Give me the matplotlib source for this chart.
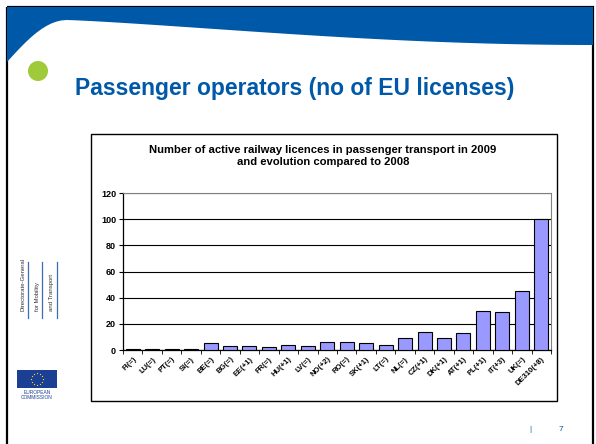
import numpy as np
import matplotlib
matplotlib.use("Agg")
import matplotlib.pyplot as plt
from matplotlib.patches import Polygon, Circle, Rectangle

# data
countries = ["FI(=)", "LU(=)", "PT(=)", "SI(=)", "BE(=)", "BG(=)", "EE(+1)", "FR(=)",
             "HU(+1)", "LV(=)", "NO(+2)", "RO(=)", "SK(+1)", "LT(=)", "NL(=)", "CZ(+1)",
             "DK(+1)", "AT(+1)", "PL(+1)", "IT(+3)", "UK(=)", "DE310(+8)"]
licences = [1, 1, 1, 1, 5, 3, 3, 2, 4, 3, 6, 6, 5, 4, 9, 14, 9, 13, 30, 29, 45, 100]
yticks = [0, 20, 40, 60, 80, 100, 120]

W, H = 596, 444
BLUE = "#0059a8"
plt.rcParams["font.family"] = ["Liberation Sans", "DejaVu Sans"]

fig = plt.figure(figsize=(W / 100, H / 100), dpi=100)

# slide overlay in pixel coords
bg = fig.add_axes([0, 0, 1, 1])
bg.set_xlim(0, W); bg.set_ylim(H, 0); bg.axis("off")

# slide frame
bg.add_patch(Rectangle((7, 7), 586, 440, fill=False, ec="black", lw=1.6))

# blue wave header
xs = np.linspace(7, 593, 120)
curve = []
for x in xs:
    if x < 67:
        t = (x - 7) / 60.0
        y = 62 - 42 * np.sin(t * np.pi / 2)
    else:
        t = (x - 67) / (593 - 67)
        y = 20 + 25 * np.sin(t * np.pi / 2) ** 1.2
    curve.append((x, y))
wave = [(7, 7), (593, 7)] + curve[::-1]
bg.add_patch(Polygon(wave, closed=True, fc=BLUE, ec="none"))

# green bullet and title
bg.add_patch(Circle((38, 71), 10, fc="#9fcb3b", ec="none"))
bg.text(75, 89, "Passenger operators (no of EU licenses)", color=BLUE,
        fontsize=16.5, fontweight="bold", va="center", ha="left")

# left DG logo
for x, txt in [(23, "Directorate-General"), (37, "for Mobility"), (51, "and Transport")]:
    bg.text(x, 311, txt, rotation=90, fontsize=4.3, color="#333333",
            ha="center", va="bottom")
for x in [28, 42, 57]:
    bg.plot([x, x], [262, 318], color="#3a6fb7", lw=0.9)
bg.add_patch(Rectangle((17, 370), 40, 18, fc="#1b3f94", ec="none"))
ang = np.linspace(0, 2 * np.pi, 13)[:-1]
bg.scatter(37 + 6 * np.cos(ang), 379 + 6 * np.sin(ang), s=0.8, c="#ffdd00", lw=0)
bg.text(37, 392, "EUROPEAN", fontsize=3.5, ha="center", va="center", color="#1b3f94")
bg.text(37, 397, "COMMISSION", fontsize=3.5, ha="center", va="center", color="#1b3f94")

# page number
bg.text(530, 429, "|", fontsize=6, color=BLUE, ha="center", va="center")
bg.text(561, 429, "7", fontsize=6, color=BLUE, ha="center", va="center")

# chart box
bg.add_patch(Rectangle((91, 134), 466, 267, fc="white", ec="black", lw=1.0))
bg.text(323, 156, "Number of active railway licences in passenger transport in 2009\n"
        "and evolution compared to 2008", fontsize=8.1, fontweight="bold",
        ha="center", va="center", linespacing=1.3)

# bar chart
ax = fig.add_axes([123 / W, (H - 350) / H, (551 - 123) / W, (350 - 193) / H])
x = np.arange(len(countries))
ax.bar(x, licences, width=0.72, color="#9999ff", edgecolor="black", linewidth=0.8, zorder=3)
ax.set_xlim(-0.5, len(countries) - 0.5)
ax.set_ylim(0, 120)
ax.set_yticks(yticks)
ax.set_yticklabels([str(v) for v in yticks], fontsize=6.5, fontweight="bold")
ax.grid(axis="y", color="black", lw=0.8, zorder=0)
ax.set_xticks(x)
ax.set_xticklabels(countries, rotation=45, ha="right", rotation_mode="anchor",
                   fontsize=5.5, fontweight="bold")
ax.tick_params(axis="x", length=0, pad=4)
ax.set_xticks(np.arange(-0.5, len(countries)), minor=True)
ax.tick_params(axis="x", which="minor", length=3, direction="out")
ax.tick_params(axis="y", length=3, direction="out", pad=2)
for s in ["top", "right"]:
    ax.spines[s].set_color("#808080")
    ax.spines[s].set_linewidth(0.8)
ax.spines["left"].set_linewidth(0.9)
ax.spines["bottom"].set_linewidth(0.9)

fig.savefig("out.png", dpi=100)
